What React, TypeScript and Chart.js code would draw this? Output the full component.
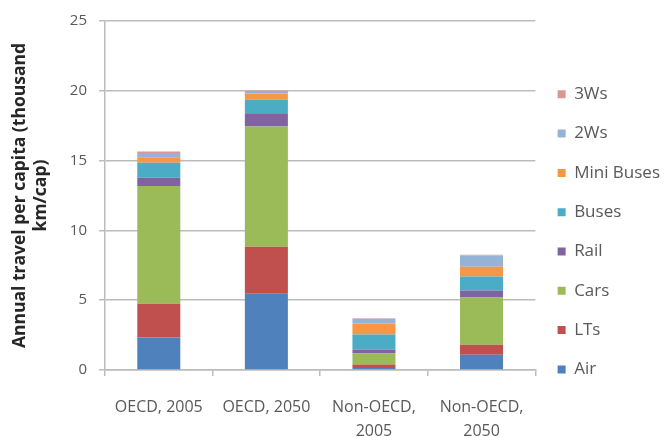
import React, { useEffect, useRef } from "react";
import { Chart, registerables } from "chart.js";

Chart.register(...registerables);

const categories: (string | string[])[] = [
  "OECD, 2005",
  "OECD, 2050",
  ["Non-OECD,", "2005"],
  ["Non-OECD,", "2050"],
];

const air = [2.33, 5.46, 0.15, 1.1];
const lts = [2.42, 3.37, 0.25, 0.7];
const cars = [8.43, 8.62, 0.79, 3.4];
const rail = [0.59, 0.95, 0.28, 0.5];
const buses = [1.07, 0.95, 1.07, 1.0];
const miniBuses = [0.4, 0.45, 0.79, 0.7];
const twoWs = [0.31, 0.12, 0.35, 0.8];
const threeWs = [0.1, 0.08, 0.03, 0.05];

const yTicks = [0, 5, 10, 15, 20, 25];

const FONT = "'Open Sans', sans-serif";

export default function App() {
  const ref = useRef<HTMLCanvasElement | null>(null);

  useEffect(() => {
    if (!ref.current) return;
    const series = [
      { label: "Air", data: air, color: "#4F81BD" },
      { label: "LTs", data: lts, color: "#C0504D" },
      { label: "Cars", data: cars, color: "#9BBB59" },
      { label: "Rail", data: rail, color: "#8064A2" },
      { label: "Buses", data: buses, color: "#4BACC6" },
      { label: "Mini Buses", data: miniBuses, color: "#F79646" },
      { label: "2Ws", data: twoWs, color: "#95B3D7" },
      { label: "3Ws", data: threeWs, color: "#D99694" },
    ];
    const chart = new Chart(ref.current, {
      type: "bar",
      data: {
        labels: categories as any,
        datasets: series.map((s) => ({
          label: s.label,
          data: s.data,
          backgroundColor: s.color,
          borderWidth: 0,
          barPercentage: 0.4,
          categoryPercentage: 1.0,
        })),
      },
      options: {
        animation: false,
        responsive: true,
        maintainAspectRatio: false,
        layout: { padding: { top: 12, left: 0, right: -5, bottom: 0 } },
        plugins: {
          tooltip: { enabled: false },
          legend: {
            position: "right",
            align: "start",
            reverse: true,
            title: {
              display: true,
              text: "",
              font: { size: 10, lineHeight: "12px" as any },
              padding: { top: 39.5, bottom: 0 },
            },
            labels: {
              boxWidth: 8,
              boxHeight: 8,
              padding: 22.3,
              color: "#595959",
              font: { family: FONT, size: 17 },
            },
          },
        },
        scales: {
          x: {
            stacked: true,
            afterFit: (s: any) => {
              s.height = 67;
            },
            grid: {
              offset: true,
              drawOnChartArea: false,
              drawTicks: true,
              tickLength: 6,
              color: "#bcbcbc",
              lineWidth: 1.5,
            },
            border: { color: "#bcbcbc", width: 1.5 },
            ticks: {
              color: "#595959",
              padding: 19,
              maxRotation: 0,
              autoSkip: false,
              font: { family: FONT, size: 16, lineHeight: 1.5 },
            },
          },
          y: {
            stacked: true,
            min: 0,
            max: 25,
            afterFit: (s: any) => {
              s.width = 105;
            },
            afterBuildTicks: (s: any) => {
              s.ticks = yTicks.map((v) => ({ value: v }));
            },
            grid: {
              color: "#bcbcbc",
              lineWidth: 1.5,
              tickLength: 6,
            },
            border: { color: "#bcbcbc", width: 1.5 },
            ticks: {
              color: "#595959",
              padding: 12,
              font: { family: FONT, size: 15 },
            },
            title: {
              display: true,
              text: ["Annual travel per capita (thousand", "km/cap)"],
              color: "#262626",
              font: { family: FONT, size: 17.5, weight: "bold", lineHeight: "21px" as any },
              padding: { top: 9.5, bottom: 0 },
            },
          },
        },
      },
    });
    return () => chart.destroy();
  }, []);

  return (
    <div style={{ position: "absolute", left: 0, top: 0, width: 665, height: 437, background: "#fff" }}>
      <canvas ref={ref} />
    </div>
  );
}
